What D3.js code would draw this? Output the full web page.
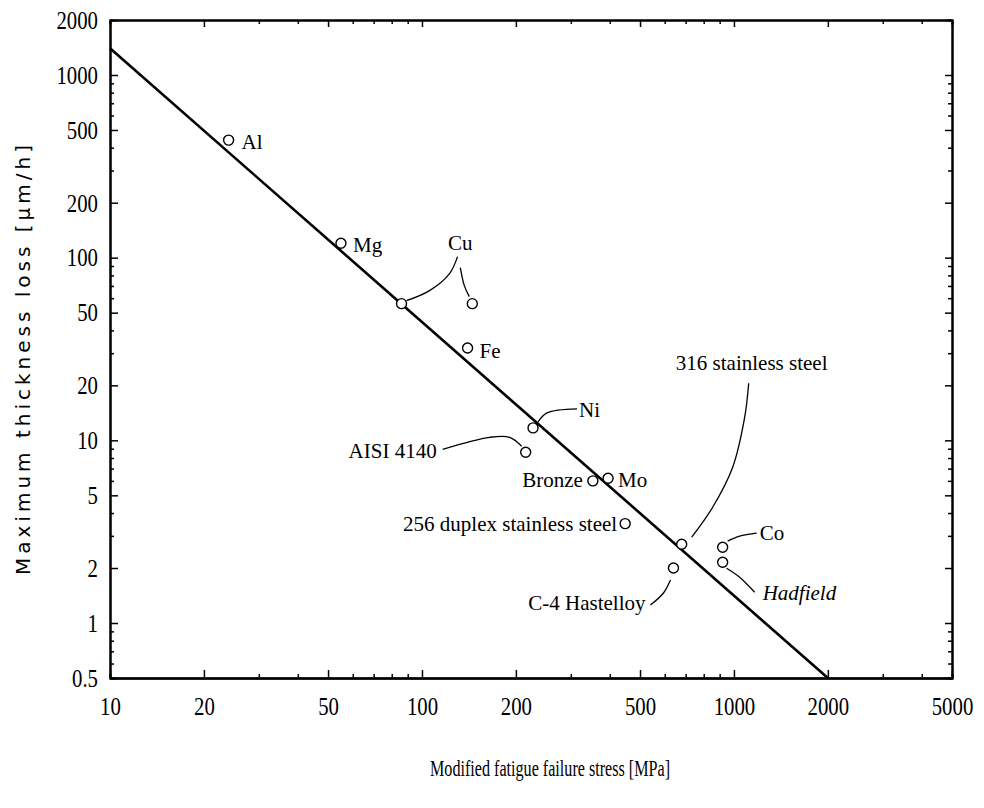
<!DOCTYPE html>
<html>
<head>
<meta charset="utf-8">
<script src="https://cdn.jsdelivr.net/npm/d3@7"></script>
<style>
  body { margin: 0; background: #fff; }
  text { fill: #000; }
</style>
</head>
<body>
<script>
// Chart data: fatigue failure stress vs maximum thickness loss (log-log)
const materials = ["Al", "Mg", "Cu", "Cu", "Fe", "Ni", "AISI 4140", "Bronze", "Mo",
    "256 duplex stainless steel", "316 stainless steel", "C-4 Hastelloy", "Co", "Hadfield"];
const stress = [24, 55, 86, 145, 140, 227, 215, 353, 395, 448, 680, 640, 920, 920];
const loss = [440, 120, 56, 56, 32, 11.7, 8.6, 6.0, 6.2, 3.5, 2.7, 2.0, 2.6, 2.15];

const fitStress = [10, 2000];
const fitLoss = [1400, 0.5];

const xTicks = [10, 20, 50, 100, 200, 500, 1000, 2000, 5000];
const yTicks = [0.5, 1, 2, 5, 10, 20, 50, 100, 200, 500, 1000, 2000];

// label layout (pixel offsets from each point)
const notes = [
    { i: 0, dx: 13, dy: 9 },
    { i: 1, dx: 12, dy: 9 },
    { i: 3, dx: -12, dy: -54, anchor: "middle" },
    { i: 4, dx: 12, dy: 10 },
    { i: 5, dx: 46, dy: -11 },
    { i: 6, dx: -89, dy: 6, anchor: "end" },
    { i: 7, dx: -10, dy: 6, anchor: "end" },
    { i: 8, dx: 10, dy: 9 },
    { i: 9, dx: -8, dy: 7, anchor: "end" },
    { i: 10, dx: 70, dy: -174, anchor: "middle" },
    { i: 11, dx: -28, dy: 42, anchor: "end" },
    { i: 12, dx: 37, dy: -7 },
    { i: 13, dx: 40, dy: 38, italic: true }
];

const leaders = [
    { i: 2, pts: [[5, -3], [28, -13], [48, -30], [56, -47]] },
    { i: 3, pts: [[-3, -7], [-8, -18], [-12, -36]] },
    { i: 5, pts: [[5, -6], [14, -15], [44, -19]] },
    { i: 6, pts: [[-4, -6], [-16, -15], [-36, -15], [-83, -3]] },
    { i: 10, pts: [[10, -7], [31, -37], [51, -77], [63, -127], [67, -161]] },
    { i: 11, pts: [[-3, 12], [-10, 25], [-23, 37]] },
    { i: 12, pts: [[5, -6], [17, -11], [34, -14]] },
    { i: 13, pts: [[4, 6], [17, 15], [32, 30]] }
];

const width = 984;
const height = 808;
const plotLeft = 110, plotRight = 952, plotTop = 20, plotBottom = 678;

const svg = d3.select("body")
    .append("svg")
    .attr("width", width)
    .attr("height", height);

const x = d3.scaleLog().domain([10, 5000]).range([plotLeft, plotRight]);
const y = d3.scaleLog().domain([0.5, 2000]).range([plotBottom, plotTop]);

const xMinor = x.ticks().filter(v => !xTicks.includes(v));
const yMinor = y.ticks().filter(v => !yTicks.includes(v));

// axes: inward ticks on all four sides
const gBottom = svg.append("g")
    .attr("transform", `translate(0,${plotBottom})`)
    .call(d3.axisBottom(x).tickValues(xTicks).tickSize(-8).tickSizeOuter(0)
        .tickPadding(19).tickFormat(d => d));
const gLeft = svg.append("g")
    .attr("transform", `translate(${plotLeft},0)`)
    .call(d3.axisLeft(y).tickValues(yTicks).tickSize(-8).tickSizeOuter(0)
        .tickPadding(15).tickFormat(d => d));
svg.append("g")
    .attr("transform", `translate(0,${plotTop})`)
    .call(d3.axisTop(x).tickValues(xTicks).tickSize(-7).tickSizeOuter(0).tickFormat(""));
svg.append("g")
    .attr("transform", `translate(${plotRight},0)`)
    .call(d3.axisRight(y).tickValues(yTicks).tickSize(-7).tickSizeOuter(0).tickFormat(""));

svg.append("g").attr("transform", `translate(0,${plotBottom})`)
    .call(d3.axisBottom(x).tickValues(xMinor).tickSize(-4).tickFormat(""));
svg.append("g").attr("transform", `translate(0,${plotTop})`)
    .call(d3.axisTop(x).tickValues(xMinor).tickSize(-4).tickFormat(""));
svg.append("g").attr("transform", `translate(${plotLeft},0)`)
    .call(d3.axisLeft(y).tickValues(yMinor).tickSize(-4).tickFormat(""));
svg.append("g").attr("transform", `translate(${plotRight},0)`)
    .call(d3.axisRight(y).tickValues(yMinor).tickSize(-4).tickFormat(""));

svg.selectAll(".domain").attr("stroke", "#000").attr("stroke-width", 2);
gBottom.select(".domain").attr("stroke-width", 2.6);
svg.selectAll(".tick line").attr("stroke", "#000").attr("stroke-width", 1.5);

[gBottom, gLeft].forEach(g => g.selectAll(".tick text")
    .attr("font-family", "Liberation Serif")
    .attr("font-size", 26)
    .attr("transform", "scale(0.8,1)"));

// fitted line
svg.append("path")
    .datum(fitStress.map((s, k) => [s, fitLoss[k]]))
    .attr("fill", "none")
    .attr("stroke", "#000")
    .attr("stroke-width", 2.6)
    .attr("d", d3.line().x(d => x(d[0])).y(d => y(d[1])));

// leader lines
const leaderLine = d3.line().curve(d3.curveCatmullRom);
svg.append("g")
    .selectAll("path")
    .data(leaders)
    .enter().append("path")
    .attr("fill", "none")
    .attr("stroke", "#000")
    .attr("stroke-width", 1.3)
    .attr("d", d => leaderLine(d.pts.map(p => [x(stress[d.i]) + p[0], y(loss[d.i]) + p[1]])));

// data points
svg.append("g")
    .selectAll("circle")
    .data(materials)
    .enter().append("circle")
    .attr("cx", (d, k) => x(stress[k]))
    .attr("cy", (d, k) => y(loss[k]))
    .attr("r", 5)
    .attr("fill", "#fff")
    .attr("stroke", "#000")
    .attr("stroke-width", 1.4);

svg.append("g")
    .selectAll("text")
    .data(notes)
    .enter().append("text")
    .attr("x", d => x(stress[d.i]) + d.dx)
    .attr("y", d => y(loss[d.i]) + d.dy)
    .attr("text-anchor", d => d.anchor || "start")
    .attr("font-family", "Liberation Serif")
    .attr("font-size", 21)
    .attr("font-style", d => d.italic ? "italic" : "normal")
    .text(d => materials[d.i]);

// axis titles
svg.append("text")
    .attr("x", 550)
    .attr("y", 776)
    .attr("text-anchor", "middle")
    .attr("font-family", "Liberation Serif")
    .attr("font-size", 24)
    .attr("textLength", 240)
    .attr("lengthAdjust", "spacingAndGlyphs")
    .text("Modified fatigue failure stress [MPa]");

svg.append("text")
    .attr("transform", "translate(30,360) rotate(-90)")
    .attr("text-anchor", "middle")
    .attr("font-family", "DejaVu Sans")
    .attr("font-size", 20)
    .attr("textLength", 430)
    .attr("lengthAdjust", "spacing")
    .text("Maximum thickness loss [μm/h]");
</script>
</body>
</html>
